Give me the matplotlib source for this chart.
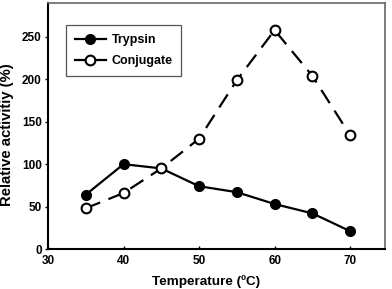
import matplotlib.pyplot as plt

plt.rcParams['font.family'] = ['Liberation Sans', 'DejaVu Sans']

temperature = [35, 40, 45, 50, 55, 60, 65, 70]
trypsin = [64, 100, 95, 74, 67, 53, 42, 21]
conjugate = [48, 66, 95, 130, 199, 258, 204, 134]

x_ticks = [30, 40, 50, 60, 70]
y_ticks = [0, 50, 100, 150, 200, 250]

fig = plt.figure(figsize=(3.92, 2.89), dpi=100)
ax = fig.add_axes([0.1224, 0.1384, 0.8596, 0.8512])

ax.plot(temperature, trypsin, color='black', linewidth=1.6, marker='o',
        markersize=7, markerfacecolor='black', markeredgecolor='black',
        label='Trypsin', zorder=3)
ax.plot(temperature, conjugate, color='black', linewidth=1.6, marker='o',
        markersize=7, markerfacecolor='white', markeredgecolor='black',
        markeredgewidth=1.5, dashes=(7, 4), label='Conjugate', zorder=3)

ax.set_xlim(30, 74.6)
ax.set_ylim(0, 290)
ax.set_xticks(x_ticks)
ax.set_yticks(y_ticks)
ax.tick_params(axis='x', direction='in', length=2.5, width=1, labelsize=8.5, pad=4)
ax.tick_params(axis='y', direction='out', length=2.5, width=1, labelsize=8.5, pad=2)
for lab in ax.get_xticklabels() + ax.get_yticklabels():
    lab.set_fontweight('bold')

ax.set_xlabel('Temperature (\u00baC)', fontsize=9.7, fontweight='bold')
ax.xaxis.set_label_coords(0.47, -0.108)
ax.set_ylabel('Relative activitiy (%)', fontsize=10.7, fontweight='bold')
ax.yaxis.set_label_coords(-0.1, 0.463)

ax.spines['left'].set_linewidth(1.5)
ax.spines['bottom'].set_linewidth(1.5)
ax.spines['top'].set_color('#666666')
ax.spines['right'].set_color('#666666')
ax.spines['top'].set_linewidth(1.2)
ax.spines['right'].set_linewidth(1.2)

leg = ax.legend(loc='upper left', bbox_to_anchor=(0.035, 0.935), fancybox=False,
                edgecolor='#555555', framealpha=1, prop={'weight': 'bold', 'size': 9},
                handlelength=2.5, borderpad=0.7, labelspacing=0.75, handletextpad=0.45)
leg.get_frame().set_linewidth(0.9)
for h in leg.get_lines():
    h.set_linestyle('-')

fig.savefig('out.png', dpi=100)
